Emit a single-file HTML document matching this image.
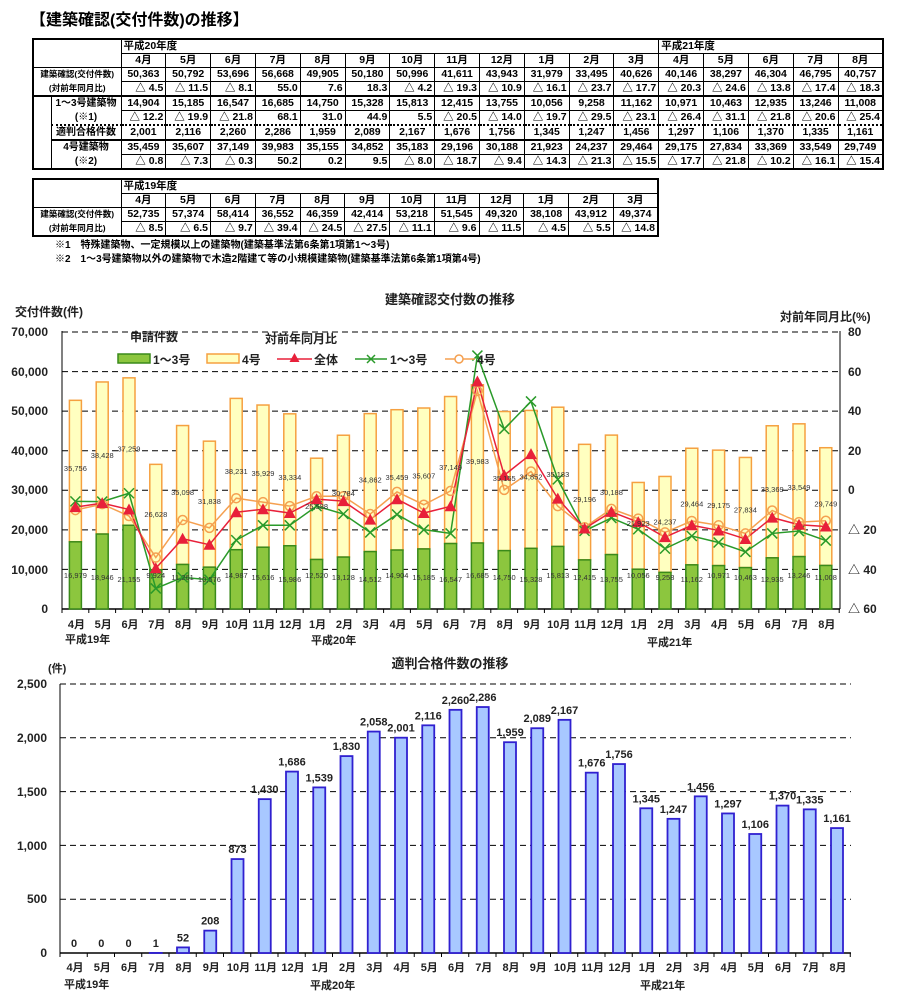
<!DOCTYPE html>
<html><head><meta charset="utf-8"><style>
body{margin:0;background:#fff;width:900px;height:1006px;position:relative;overflow:hidden;font-family:"Liberation Sans","Noto Sans CJK JP",sans-serif;}
.ttl{position:absolute;left:30px;top:6px;font-size:16px;font-weight:bold;letter-spacing:0px}
table{position:absolute;border-collapse:collapse;table-layout:fixed;font-size:10.5px;font-weight:bold;border:2px solid #000}
td{border:1px solid #000;padding:0 2px;height:13px;line-height:13px;white-space:nowrap;overflow:hidden;text-align:center}
td.r{text-align:right}
td.l{text-align:left}
td.lab{font-size:8.5px;text-align:center}
td.lab2{font-size:10px;text-align:center;padding:0}
tr.dot td{border-top:2px dotted #000}
.note{position:absolute;left:55px;font-size:10px;font-weight:bold}
svg{position:absolute;left:0;top:0}
svg text{font-family:"Liberation Sans","Noto Sans CJK JP",sans-serif}
</style></head><body>
<div class="ttl">【建築確認(交付件数)の推移】</div>
<table style="left:32px;top:38px;width:852px">
<colgroup><col style="width:18px"><col style="width:70px"><col span="17"></colgroup>
<tr><td colspan="2" rowspan="2" style="border-bottom:1px solid #000"></td><td colspan="12" class="l">平成20年度</td><td colspan="5" class="l">平成21年度</td></tr>
<tr><td>4月</td><td>5月</td><td>6月</td><td>7月</td><td>8月</td><td>9月</td><td>10月</td><td>11月</td><td>12月</td><td>1月</td><td>2月</td><td>3月</td><td>4月</td><td>5月</td><td>6月</td><td>7月</td><td>8月</td></tr>
<tr><td colspan="2" class="lab" style="border-bottom:none">建築確認(交付件数)</td><td>50,363</td><td>50,792</td><td>53,696</td><td>56,668</td><td>49,905</td><td>50,180</td><td>50,996</td><td>41,611</td><td>43,943</td><td>31,979</td><td>33,495</td><td>40,626</td><td>40,146</td><td>38,297</td><td>46,304</td><td>46,795</td><td>40,757</td></tr>
<tr><td colspan="2" class="lab" style="border-top:none">(対前年同月比)</td><td class="r">△ 4.5</td><td class="r">△ 11.5</td><td class="r">△ 8.1</td><td class="r">55.0</td><td class="r">7.6</td><td class="r">18.3</td><td class="r">△ 4.2</td><td class="r">△ 19.3</td><td class="r">△ 10.9</td><td class="r">△ 16.1</td><td class="r">△ 23.7</td><td class="r">△ 17.7</td><td class="r">△ 20.3</td><td class="r">△ 24.6</td><td class="r">△ 13.8</td><td class="r">△ 17.4</td><td class="r">△ 18.3</td></tr>
<tr style="border-top:2px solid #000"><td rowspan="5" style="border-left:2px solid #000"></td><td class="lab2" style="border-bottom:none">1～3号建築物</td><td>14,904</td><td>15,185</td><td>16,547</td><td>16,685</td><td>14,750</td><td>15,328</td><td>15,813</td><td>12,415</td><td>13,755</td><td>10,056</td><td>9,258</td><td>11,162</td><td>10,971</td><td>10,463</td><td>12,935</td><td>13,246</td><td>11,008</td></tr>
<tr><td class="lab2" style="border-top:none">(※1)</td><td class="r">△ 12.2</td><td class="r">△ 19.9</td><td class="r">△ 21.8</td><td class="r">68.1</td><td class="r">31.0</td><td class="r">44.9</td><td class="r">5.5</td><td class="r">△ 20.5</td><td class="r">△ 14.0</td><td class="r">△ 19.7</td><td class="r">△ 29.5</td><td class="r">△ 23.1</td><td class="r">△ 26.4</td><td class="r">△ 31.1</td><td class="r">△ 21.8</td><td class="r">△ 20.6</td><td class="r">△ 25.4</td></tr>
<tr class="dot"><td class="lab2">適判合格件数</td><td>2,001</td><td>2,116</td><td>2,260</td><td>2,286</td><td>1,959</td><td>2,089</td><td>2,167</td><td>1,676</td><td>1,756</td><td>1,345</td><td>1,247</td><td>1,456</td><td>1,297</td><td>1,106</td><td>1,370</td><td>1,335</td><td>1,161</td></tr>
<tr style="border-top:2px solid #000"><td class="lab2" style="border-bottom:none">4号建築物</td><td>35,459</td><td>35,607</td><td>37,149</td><td>39,983</td><td>35,155</td><td>34,852</td><td>35,183</td><td>29,196</td><td>30,188</td><td>21,923</td><td>24,237</td><td>29,464</td><td>29,175</td><td>27,834</td><td>33,369</td><td>33,549</td><td>29,749</td></tr>
<tr><td class="lab2" style="border-top:none">(※2)</td><td class="r">△ 0.8</td><td class="r">△ 7.3</td><td class="r">△ 0.3</td><td class="r">50.2</td><td class="r">0.2</td><td class="r">9.5</td><td class="r">△ 8.0</td><td class="r">△ 18.7</td><td class="r">△ 9.4</td><td class="r">△ 14.3</td><td class="r">△ 21.3</td><td class="r">△ 15.5</td><td class="r">△ 17.7</td><td class="r">△ 21.8</td><td class="r">△ 10.2</td><td class="r">△ 16.1</td><td class="r">△ 15.4</td></tr>
</table>
<table style="left:32px;top:178px;width:627px">
<colgroup><col style="width:88px"><col span="12"></colgroup>
<tr><td rowspan="2"></td><td colspan="12" class="l">平成19年度</td></tr>
<tr><td>4月</td><td>5月</td><td>6月</td><td>7月</td><td>8月</td><td>9月</td><td>10月</td><td>11月</td><td>12月</td><td>1月</td><td>2月</td><td>3月</td></tr>
<tr><td class="lab" style="border-bottom:none">建築確認(交付件数)</td><td>52,735</td><td>57,374</td><td>58,414</td><td>36,552</td><td>46,359</td><td>42,414</td><td>53,218</td><td>51,545</td><td>49,320</td><td>38,108</td><td>43,912</td><td>49,374</td></tr>
<tr><td class="lab" style="border-top:none">(対前年同月比)</td><td class="r">△ 8.5</td><td class="r">△ 6.5</td><td class="r">△ 9.7</td><td class="r">△ 39.4</td><td class="r">△ 24.5</td><td class="r">△ 27.5</td><td class="r">△ 11.1</td><td class="r">△ 9.6</td><td class="r">△ 11.5</td><td class="r">△ 4.5</td><td class="r">△ 5.5</td><td class="r">△ 14.8</td></tr>
</table>
<div class="note" style="top:236px">※1　特殊建築物、一定規模以上の建築物(建築基準法第6条第1項第1～3号)</div>
<div class="note" style="top:250px">※2　1～3号建築物以外の建築物で木造2階建て等の小規模建築物(建築基準法第6条第1項第4号)</div>

<svg width="900" height="1006" xmlns="http://www.w3.org/2000/svg">
<g id="c1"></g>
<g font-size="13" font-weight="bold" fill="#222">
<text x="450" y="304" text-anchor="middle">建築確認交付数の推移</text>
<text x="15" y="316" font-size="12">交付件数(件)</text>
<text x="780" y="321" font-size="12">対前年同月比(%)</text>
<text x="130" y="341" font-size="12">申請件数</text>
<text x="265" y="343" font-size="12">対前年同月比</text>
</g>
<g font-size="12" font-weight="bold" fill="#222" text-anchor="end">
<text x="48" y="336">70,000</text><text x="48" y="376">60,000</text><text x="48" y="415">50,000</text><text x="48" y="455">40,000</text><text x="48" y="494">30,000</text><text x="48" y="534">20,000</text><text x="48" y="574">10,000</text><text x="48" y="613">0</text>
</g>
<g font-size="12" font-weight="bold" fill="#222">
<text x="848" y="336">80</text><text x="848" y="376">60</text><text x="848" y="415">40</text><text x="848" y="455">20</text><text x="848" y="494">0</text><text x="848" y="534">△ 20</text><text x="848" y="574">△ 40</text><text x="848" y="613">△ 60</text>
</g>
<rect x="118" y="354" width="32" height="9" fill="#8cc63e" stroke="#3a8a1a" stroke-width="1.5"/>
<text x="153" y="364" font-size="12" font-weight="bold" fill="#222">1～3号</text>
<rect x="207" y="354" width="32" height="9" fill="#ffffc0" stroke="#f5a040" stroke-width="1.5"/>
<text x="242" y="364" font-size="12" font-weight="bold" fill="#222">4号</text>
<line x1="277" y1="359" x2="312" y2="359" stroke="#e8203a" stroke-width="1.5"/><polygon points="294.5,353 289.5,362 299.5,362" fill="#e8203a"/>
<text x="314" y="364" font-size="12" font-weight="bold" fill="#222">全体</text>
<line x1="355" y1="359" x2="387" y2="359" stroke="#2a9a2a" stroke-width="1.5"/><path d="M367,355l8,8M375,355l-8,8" stroke="#2a9a2a" stroke-width="1.5"/>
<text x="390" y="364" font-size="12" font-weight="bold" fill="#222">1～3号</text>
<line x1="445" y1="359" x2="475" y2="359" stroke="#f5a050" stroke-width="1.5"/><circle cx="459" cy="359" r="4" fill="#fff" stroke="#f5a050" stroke-width="1.5"/>
<text x="477" y="364" font-size="12" font-weight="bold" fill="#222">4号</text>
<g id="m1" font-size="11" font-weight="bold" fill="#222" text-anchor="middle">
<text>4月</text><text>5月</text><text>6月</text><text>7月</text><text>8月</text><text>9月</text><text>10月</text><text>11月</text><text>12月</text><text>1月</text><text>2月</text><text>3月</text><text>4月</text><text>5月</text><text>6月</text><text>7月</text><text>8月</text><text>9月</text><text>10月</text><text>11月</text><text>12月</text><text>1月</text><text>2月</text><text>3月</text><text>4月</text><text>5月</text><text>6月</text><text>7月</text><text>8月</text>
</g>
<g font-size="11" font-weight="bold" fill="#222">
<text x="65" y="643">平成19年</text><text x="311" y="644">平成20年</text><text x="647" y="646">平成21年</text>
</g>
<g id="gl" font-size="7.5" fill="#333" text-anchor="middle">
<text>16,979</text><text>18,946</text><text>21,155</text><text>9,924</text><text>11,261</text><text>10,576</text><text>14,987</text><text>15,616</text><text>15,986</text><text>12,520</text><text>13,128</text><text>14,512</text><text>14,904</text><text>15,185</text><text>16,547</text><text>16,685</text><text>14,750</text><text>15,328</text><text>15,813</text><text>12,415</text><text>13,755</text><text>10,056</text><text>9,258</text><text>11,162</text><text>10,971</text><text>10,463</text><text>12,935</text><text>13,246</text><text>11,008</text>
</g>
<g id="yl" font-size="7.5" fill="#333" text-anchor="middle">
<text>35,756</text><text>38,428</text><text>37,259</text><text>26,628</text><text>35,098</text><text>31,838</text><text>38,231</text><text>35,929</text><text>33,334</text><text>25,588</text><text>30,784</text><text>34,862</text><text>35,459</text><text>35,607</text><text>37,149</text><text>39,983</text><text>35,155</text><text>34,852</text><text>35,183</text><text>29,196</text><text>30,188</text><text>21,923</text><text>24,237</text><text>29,464</text><text>29,175</text><text>27,834</text><text>33,369</text><text>33,549</text><text>29,749</text>
</g>

<g id="c2"></g>
<g font-size="13" font-weight="bold" fill="#222">
<text x="450" y="668" text-anchor="middle">適判合格件数の推移</text>
<text x="48" y="672" font-size="11">(件)</text>
</g>
<g font-size="12" font-weight="bold" fill="#222" text-anchor="end">
<text x="47" y="688">2,500</text><text x="47" y="742">2,000</text><text x="47" y="796">1,500</text><text x="47" y="850">1,000</text><text x="47" y="903">500</text><text x="47" y="957">0</text>
</g>
<g id="m2" font-size="11" font-weight="bold" fill="#222" text-anchor="middle">
<text>4月</text><text>5月</text><text>6月</text><text>7月</text><text>8月</text><text>9月</text><text>10月</text><text>11月</text><text>12月</text><text>1月</text><text>2月</text><text>3月</text><text>4月</text><text>5月</text><text>6月</text><text>7月</text><text>8月</text><text>9月</text><text>10月</text><text>11月</text><text>12月</text><text>1月</text><text>2月</text><text>3月</text><text>4月</text><text>5月</text><text>6月</text><text>7月</text><text>8月</text>
</g>
<g font-size="11" font-weight="bold" fill="#222">
<text x="64" y="988">平成19年</text><text x="310" y="989">平成20年</text><text x="640" y="989">平成21年</text>
</g>
<g id="v2" font-size="11" font-weight="bold" fill="#222" text-anchor="middle">
<text>0</text><text>0</text><text>0</text><text>1</text><text>52</text><text>208</text><text>873</text><text>1,430</text><text>1,686</text><text>1,539</text><text>1,830</text><text>2,058</text><text>2,001</text><text>2,116</text><text>2,260</text><text>2,286</text><text>1,959</text><text>2,089</text><text>2,167</text><text>1,676</text><text>1,756</text><text>1,345</text><text>1,247</text><text>1,456</text><text>1,297</text><text>1,106</text><text>1,370</text><text>1,335</text><text>1,161</text>
</g>
</svg>
<script>
var NS="http://www.w3.org/2000/svg";
function el(p,t,a){var e=document.createElementNS(NS,t);for(var k in a)e.setAttribute(k,a[k]);p.appendChild(e);return e;}
var g=[16979,18946,21155,9924,11261,10576,14987,15616,15986,12520,13128,14512,14904,15185,16547,16685,14750,15328,15813,12415,13755,10056,9258,11162,10971,10463,12935,13246,11008];
var yv=[35756,38428,37259,26628,35098,31838,38231,35929,33334,25588,30784,34862,35459,35607,37149,39983,35155,34852,35183,29196,30188,21923,24237,29464,29175,27834,33369,33549,29749];
var red=[-8.5,-6.5,-9.7,-39.4,-24.5,-27.5,-11.1,-9.6,-11.5,-4.5,-5.5,-14.8,-4.5,-11.5,-8.1,55.0,7.6,18.3,-4.2,-19.3,-10.9,-16.1,-23.7,-17.7,-20.3,-24.6,-13.8,-17.4,-18.3];
var grn=[-5.6,-5.7,-1.5,-49.6,-44,-45.2,-25.2,-17.7,-17.7,-8,-12,-21.3,-12.2,-19.9,-21.8,68.1,31.0,44.9,5.5,-20.5,-14.0,-19.7,-29.5,-23.1,-26.4,-31.1,-21.8,-20.6,-25.4];
var org=[-10,-7,-13,-34,-15,-19,-4,-6,-8,-3,-3,-12,-0.8,-7.3,-0.3,50.2,0.2,9.5,-8.0,-18.7,-9.4,-14.3,-21.3,-15.5,-17.7,-21.8,-10.2,-16.1,-15.4];
var c1=document.getElementById('c1');
function Y(v){return 609-v*277/70000;}
function P(p){return 609-(p+60)*277/140;}
function X(i){return 75.4+26.8*i;}
for(var k=1;k<=7;k++){var yy=609-k*277/7;el(c1,'line',{x1:62,x2:840,y1:yy,y2:yy,stroke:'#000','stroke-dasharray':'6,4','stroke-width':1});}
el(c1,'line',{x1:62,x2:62,y1:331,y2:609,stroke:'#000'});
el(c1,'line',{x1:840,x2:840,y1:331,y2:609,stroke:'#000'});
el(c1,'line',{x1:62,x2:840,y1:609,y2:609,stroke:'#000','stroke-width':1.5});
for(var i=0;i<=29;i++){var xx=62+26.8*i;el(c1,'line',{x1:xx,x2:xx,y1:609,y2:613,stroke:'#000'});}
for(var i=0;i<29;i++){var x=X(i)-6;
 el(c1,'rect',{x:x,y:Y(g[i]+yv[i]),width:12,height:Y(g[i])-Y(g[i]+yv[i]),fill:'#ffffc0',stroke:'#f5a040','stroke-width':1.5});
 el(c1,'rect',{x:x,y:Y(g[i]),width:12,height:609-Y(g[i]),fill:'#8cc63e',stroke:'#3a8a1a','stroke-width':1.5});
}
function line(d,c){var pts=d.map(function(v,i){return X(i)+','+P(v)}).join(' ');el(c1,'polyline',{points:pts,fill:'none',stroke:c,'stroke-width':1.5});}
line(org,'#f5a050');line(grn,'#2a9a2a');line(red,'#e8203a');
for(var i=0;i<29;i++){var x=X(i);
 el(c1,'circle',{cx:x,cy:P(org[i]),r:4.5,fill:'none',stroke:'#f5a050','stroke-width':1.5});
 var y=P(grn[i]);el(c1,'path',{d:'M'+(x-5)+','+(y-5)+'l10,10M'+(x+5)+','+(y-5)+'l-10,10',stroke:'#2a9a2a','stroke-width':1.5});
 y=P(red[i]);el(c1,'polygon',{points:x+','+(y-6)+' '+(x-6)+','+(y+5)+' '+(x+6)+','+(y+5),fill:'#e8203a'});
}
var m1=document.getElementById('m1').children;for(var i=0;i<29;i++){m1[i].setAttribute('x',X(i)+1);m1[i].setAttribute('y',628);}
var gl=document.getElementById('gl').children;for(var i=0;i<29;i++){gl[i].setAttribute('x',X(i));gl[i].setAttribute('y',578+(i%3)*2);}
var yl=document.getElementById('yl').children;for(var i=0;i<29;i++){yl[i].setAttribute('x',X(i));yl[i].setAttribute('y',(Y(g[i])+Y(g[i]+yv[i]))/2);}
var c2=document.getElementById('c2');
var v2=[0,0,0,1,52,208,873,1430,1686,1539,1830,2058,2001,2116,2260,2286,1959,2089,2167,1676,1756,1345,1247,1456,1297,1106,1370,1335,1161];
function Y2(v){return 953-v*269/2500;}function X2(i){return 74+27.25*i;}
for(var k=1;k<=5;k++){var yy=Y2(k*500);el(c2,'line',{x1:60,x2:851,y1:yy,y2:yy,stroke:'#000','stroke-dasharray':'6,4'});}
el(c2,'line',{x1:60,x2:60,y1:684,y2:953,stroke:'#000'});
el(c2,'line',{x1:60,x2:851,y1:953,y2:953,stroke:'#000','stroke-width':1.5});
for(var i=0;i<=29;i++){var xx=60+27.25*i;el(c2,'line',{x1:xx,x2:xx,y1:953,y2:957,stroke:'#000'});}
for(var i=0;i<29;i++){if(v2[i]>0)el(c2,'rect',{x:X2(i)-6,y:Y2(v2[i]),width:12,height:953-Y2(v2[i]),fill:'#a8c8ff',stroke:'#3020d0','stroke-width':1.8});}
var m2=document.getElementById('m2').children;for(var i=0;i<29;i++){m2[i].setAttribute('x',X2(i)+1);m2[i].setAttribute('y',971);}
var t2=document.getElementById('v2').children;for(var i=0;i<29;i++){t2[i].setAttribute('x',X2(i));t2[i].setAttribute('y',Y2(v2[i])-6);}
</script>
</body></html>
